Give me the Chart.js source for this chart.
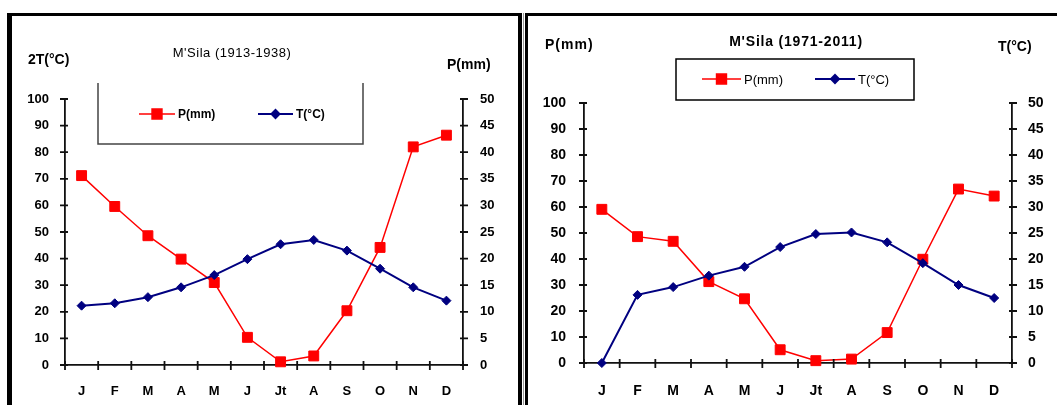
<!DOCTYPE html>
<html>
<head>
<meta charset="utf-8">
<script src="https://cdn.jsdelivr.net/npm/chart.js@4.4.0/dist/chart.umd.min.js"></script>
<style>
  body { margin: 0; background: #fff; width: 1057px; height: 405px; overflow: hidden; position: relative; }
  .frame { position: absolute; box-sizing: border-box; border-color: #000; border-style: solid; }
  #f1 { left: 7px; top: 13px; width: 515px; height: 420px; border-width: 3px 4px 0 5px; }
  #f2 { left: 525px; top: 13px; width: 560px; height: 420px; border-width: 3px 0 0 3px; }
  #sep { position: absolute; left: 523px; top: 13px; width: 1px; height: 420px; background: #999; }
  canvas { position: absolute; }
  #c1 { left: 12px; top: 16px; }
  #c2 { left: 528px; top: 16px; }
</style>
</head>
<body>
<div class="frame" id="f1"></div>
<div id="sep"></div>
<div class="frame" id="f2"></div>
<canvas id="c1" width="506" height="389"></canvas>
<canvas id="c2" width="529" height="389"></canvas>
<script>
const months = ['J', 'F', 'M', 'A', 'M', 'J', 'Jt', 'A', 'S', 'O', 'N', 'D'];

// M'Sila 1913-1938 : P on the right axis (0-50), T on the left axis (2T, 0-100)
const p1913 = [35.6, 29.8, 24.3, 19.9, 15.5, 5.2, 0.6, 1.7, 10.2, 22.1, 41.0, 43.2];
const t1913 = [22.3, 23.2, 25.5, 29.2, 33.8, 39.8, 45.4, 47.0, 43.0, 36.2, 29.2, 24.2];

// M'Sila 1971-2011 : P on the left axis (0-100), T on the right axis (0-50)
const p1971 = [59.1, 48.6, 46.8, 31.3, 24.7, 5.1, 0.9, 1.5, 11.7, 39.9, 66.9, 64.2];
const t1971 = [0, 13.1, 14.6, 16.8, 18.5, 22.3, 24.8, 25.1, 23.2, 19.2, 15.0, 12.5];

const leftMax = 100, leftStep = 10;
const rightMax = 50, rightStep = 5;

const FONT = '"Liberation Sans", Arial, sans-serif';
const RED = '#ff0000';
const BLUE = '#000080';
const AXIS = '#111';

// axis ticks that cross the axis lines, like the original spreadsheet chart
const crossTicks = {
  id: 'crossTicks',
  afterDraw(chart) {
    const ctx = chart.ctx, a = chart.chartArea;
    const yl = chart.scales.yL, yr = chart.scales.yR, x = chart.scales.x;
    ctx.save();
    ctx.strokeStyle = AXIS;
    ctx.lineWidth = 1.8;
    ctx.beginPath();
    yl.ticks.forEach(t => {
      const y = yl.getPixelForValue(t.value);
      ctx.moveTo(a.left - 5, y); ctx.lineTo(a.left + 3, y);
    });
    yr.ticks.forEach(t => {
      const y = yr.getPixelForValue(t.value);
      ctx.moveTo(a.right - 3, y); ctx.lineTo(a.right + 5, y);
    });
    for (let i = 0; i <= months.length; i++) {
      const px = x.getPixelForValue(i - 0.5);
      ctx.moveTo(px, a.bottom - 4); ctx.lineTo(px, a.bottom + 5);
    }
    ctx.stroke();
    ctx.restore();
  }
};

function decor(o) {
  return {
    id: 'decor',
    afterDraw(chart) {
      const ctx = chart.ctx;
      ctx.save();
      ctx.fillStyle = '#000';
      ctx.textBaseline = 'middle';
      o.texts.forEach(t => {
        ctx.font = t.font + ' ' + FONT;
        ctx.letterSpacing = (t.spacing || 0) + 'px';
        ctx.textAlign = t.align;
        ctx.fillText(t.text, t.x, t.y);
      });
      ctx.letterSpacing = '0px';

      // legend box
      const b = o.box;
      ctx.strokeStyle = b.color;
      ctx.lineWidth = 1.5;
      ctx.beginPath();
      if (b.open) {
        ctx.moveTo(b.l, b.t); ctx.lineTo(b.l, b.b); ctx.lineTo(b.r, b.b); ctx.lineTo(b.r, b.t);
      } else {
        ctx.rect(b.l, b.t, b.r - b.l, b.b - b.t);
      }
      ctx.stroke();

      o.items.forEach(it => {
        ctx.strokeStyle = it.color;
        ctx.fillStyle = it.color;
        ctx.lineWidth = it.lw;
        ctx.beginPath();
        ctx.moveTo(it.x1, o.legendY); ctx.lineTo(it.x2, o.legendY);
        ctx.stroke();
        Chart.helpers.drawPoint(ctx, { pointStyle: it.style, radius: it.r, borderWidth: 1, rotation: 0 },
          (it.x1 + it.x2) / 2, o.legendY);
        ctx.fillStyle = '#000';
        ctx.font = o.legendFont + ' ' + FONT;
        ctx.textAlign = 'left';
        ctx.fillText(it.label, it.x2 + 3, o.legendY + 1);
      });
      ctx.restore();
    }
  };
}

function climChart(id, o) {
  const tickFont = { family: FONT, size: o.fs, weight: 'bold' };
  return new Chart(document.getElementById(id), {
    type: 'line',
    data: {
      labels: months,
      datasets: [
        { label: 'T(°C)', data: o.t, yAxisID: o.tAxis, borderColor: BLUE, backgroundColor: BLUE,
          borderWidth: 2, pointStyle: 'rectRot', pointRadius: 4.5, pointBorderWidth: 1, order: 1, clip: false },
        { label: 'P(mm)', data: o.p, yAxisID: o.pAxis, borderColor: RED, backgroundColor: RED,
          borderWidth: 1.5, pointStyle: 'rect', pointRadius: 7, pointBorderWidth: 1, order: 2, clip: false }
      ]
    },
    options: {
      responsive: false,
      animation: false,
      events: [],
      layout: { padding: { top: o.top, left: 0, right: 0, bottom: 0 } },
      plugins: { legend: { display: false }, title: { display: false }, tooltip: { enabled: false } },
      scales: {
        x: {
          offset: true,
          grid: { drawOnChartArea: false, drawTicks: false },
          border: { color: AXIS, width: 1.8 },
          ticks: { font: tickFont, color: '#000', padding: o.xPad, maxRotation: 0, autoSkip: false },
          afterFit: s => { s.height = o.xH; }
        },
        yL: {
          position: 'left', min: 0, max: leftMax,
          grid: { drawOnChartArea: false, drawTicks: false },
          border: { color: AXIS, width: 1.8 },
          ticks: { stepSize: leftStep, font: tickFont, color: '#000', padding: o.lPad },
          afterFit: s => { s.width = o.lW; }
        },
        yR: {
          position: 'right', min: 0, max: rightMax,
          grid: { drawOnChartArea: false, drawTicks: false },
          border: { color: AXIS, width: 1.8 },
          ticks: { stepSize: rightStep, font: tickFont, color: '#000', padding: o.rPad },
          afterFit: s => { s.width = o.rW; }
        }
      }
    },
    plugins: [crossTicks, decor(o)]
  });
}

climChart('c1', {
  p: p1913, t: t1913, pAxis: 'yR', tAxis: 'yL',
  top: 83, lW: 53, rW: 55, xH: 40, lPad: 16, rPad: 17, xPad: 19, fs: 13,
  texts: [
    { text: '2T(°C)', x: 16, y: 44, align: 'left', font: 'bold 14px' },
    { text: "M'Sila (1913-1938)", x: 220, y: 37, align: 'center', font: '13px', spacing: 0.5 },
    { text: 'P(mm)', x: 435, y: 49, align: 'left', font: 'bold 14px' }
  ],
  box: { l: 86, r: 351, t: 67, b: 128, open: true, color: '#444' },
  legendY: 98, legendFont: 'bold 12px',
  items: [
    { x1: 127, x2: 163, color: RED, lw: 1.5, style: 'rect', r: 7, label: 'P(mm)' },
    { x1: 246, x2: 281, color: BLUE, lw: 2, style: 'rectRot', r: 4, label: 'T(°C)' }
  ]
});

climChart('c2', {
  p: p1971, t: t1971, pAxis: 'yL', tAxis: 'yR',
  top: 87, lW: 56, rW: 45, xH: 42, lPad: 18, rPad: 16, xPad: 20, fs: 14,
  texts: [
    { text: 'P(mm)', x: 17, y: 29, align: 'left', font: 'bold 14px', spacing: 1 },
    { text: "M'Sila (1971-2011)", x: 268, y: 26, align: 'center', font: 'bold 14px', spacing: 0.8 },
    { text: 'T(°C)', x: 470, y: 31, align: 'left', font: 'bold 14px' }
  ],
  box: { l: 148, r: 386, t: 43, b: 84, open: false, color: '#000' },
  legendY: 63, legendFont: '13px',
  items: [
    { x1: 174, x2: 213, color: RED, lw: 1.5, style: 'rect', r: 7, label: 'P(mm)' },
    { x1: 287, x2: 327, color: BLUE, lw: 2, style: 'rectRot', r: 4, label: 'T(°C)' }
  ]
});
</script>
</body>
</html>
